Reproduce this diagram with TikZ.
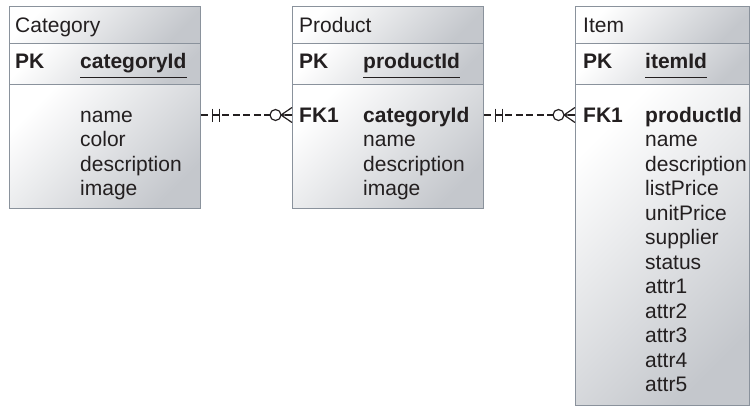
\documentclass[tikz,border=0pt]{standalone}
\usepackage{fontspec}
\setmainfont{Liberation Sans}
\usetikzlibrary{positioning,calc}
\usepackage{xcolor}

\definecolor{boxgray}{RGB}{196,199,204}
\definecolor{boxline}{RGB}{138,146,156}
\definecolor{ink}{RGB}{35,31,32}

% one-to-many link between two tables, at the level of the first field line
\newcommand{\onetomany}[2]{%
  \draw[link] (#1.east |- lvl) -- (#2.west |- lvl);
  \draw[endmark] ($(#1.east |- lvl)+(11,-6.5)$) -- +(0,13)
              ($(#1.east |- lvl)+(18,-6.5)$) -- +(0,13);
  \draw[endmark, fill=white] ($(#2.west |- lvl)+(-16.5,0)$) circle (5.5pt);
  \draw[endmark] ($(#2.west |- lvl)+(-11,0)$) -- ($(#2.west |- lvl)+(0,-7.5)$)
              ($(#2.west |- lvl)+(-11,0)$) -- ($(#2.west |- lvl)+(0,7.5)$)
              ($(#2.west |- lvl)+(-11,0)$) -- (#2.west |- lvl);
}

\begin{document}
\begin{tikzpicture}[x=1pt, y=-1pt,
    every node/.style={font=\fontsize{21}{24}\selectfont, text=ink},
    sect/.style={draw=boxline, line width=1.3pt, top color=white, bottom color=boxgray,
                 shading angle=45, inner sep=0pt, anchor=north west},
    lbl/.style={anchor=base west, inner sep=0pt},
    uline/.style={ink, line width=1pt},
    link/.style={ink, line width=2.4pt, dash pattern=on 7pt off 3.5pt},
    endmark/.style={ink, line width=1.2pt}]
  \useasboundingbox (0,0) rectangle (751,415);
  \coordinate (lvl) at (0,115);

  % Category table
  \node[sect, minimum width=191pt, minimum height=37pt] (cat-t) at (9,6) {};
  \node[sect, minimum width=191pt, minimum height=41pt] (cat-k) at (9,43) {};
  \node[sect, minimum width=191pt, minimum height=124pt] (cat-b) at (9,84) {};
  \node[lbl] (cat-name) at (15,32) {Category};
  \node[lbl] (cat-pk) at (15,68) {\textbf{PK}};
  \node[lbl] (cat-id) at (80,68) {\textbf{categoryId}};
  \draw[uline] ([yshift=-9pt]cat-id.base west) -- ([yshift=-9pt]cat-id.base east);
  \foreach \f [count=\i from 0] in {name,color,description,image}
    \node[lbl] (cat-f\i) at (80,{122+24.5*\i}) {\f};

  % Product table
  \node[sect, minimum width=191pt, minimum height=37pt] (prod-t) at (292,6) {};
  \node[sect, minimum width=191pt, minimum height=41pt] (prod-k) at (292,43) {};
  \node[sect, minimum width=191pt, minimum height=124pt] (prod-b) at (292,84) {};
  \node[lbl] (prod-name) at (299,32) {Product};
  \node[lbl] (prod-pk) at (299,68) {\textbf{PK}};
  \node[lbl] (prod-id) at (363,68) {\textbf{productId}};
  \draw[uline] ([yshift=-9pt]prod-id.base west) -- ([yshift=-9pt]prod-id.base east);
  \node[lbl] (prod-fk) at (299,122) {\textbf{FK1}};
  \node[lbl] (prod-f0) at (363,122) {\textbf{categoryId}};
  \foreach \f [count=\i from 1] in {name,description,image}
    \node[lbl] (prod-f\i) at (363,{122+24.5*\i}) {\f};

  % Item table
  \node[sect, minimum width=174pt, minimum height=37pt] (item-t) at (575,6) {};
  \node[sect, minimum width=174pt, minimum height=41pt] (item-k) at (575,43) {};
  \node[sect, minimum width=174pt, minimum height=321pt] (item-b) at (575,84) {};
  \node[lbl] (item-name) at (583,32) {Item};
  \node[lbl] (item-pk) at (583,68) {\textbf{PK}};
  \node[lbl] (item-id) at (645,68) {\textbf{itemId}};
  \draw[uline] ([yshift=-9pt]item-id.base west) -- ([yshift=-9pt]item-id.base east);
  \node[lbl] (item-fk) at (583,122) {\textbf{FK1}};
  \node[lbl] (item-f0) at (645,122) {\textbf{productId}};
  \foreach \f [count=\i from 1] in {name,description,listPrice,unitPrice,supplier,status,attr1,attr2,attr3,attr4,attr5}
    \node[lbl] (item-f\i) at (645,{122+24.5*\i}) {\f};

  % links
  \onetomany{cat-b}{prod-b}
  \onetomany{prod-b}{item-b}
\end{tikzpicture}
\end{document}
